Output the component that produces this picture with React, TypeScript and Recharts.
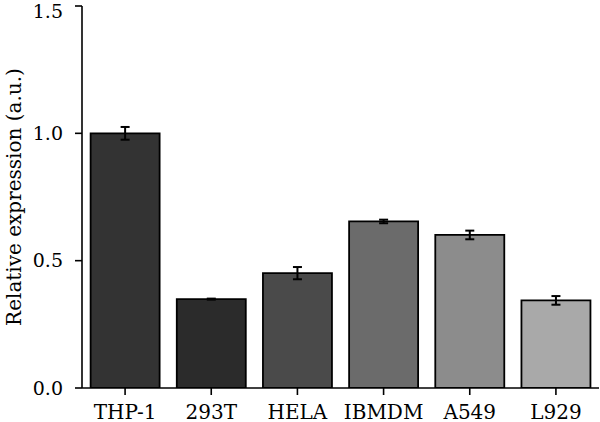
import React from 'react';
import { BarChart, Bar, XAxis, YAxis, ErrorBar, Cell, Label } from 'recharts';

const categories = ['THP-1', '293T', 'HELA', 'IBMDM', 'A549', 'L929'];
const values = [1.0, 0.349, 0.451, 0.654, 0.601, 0.344];
const errors = [0.025, 0.002, 0.024, 0.007, 0.017, 0.017];
const colors = ['#333333', '#2b2b2b', '#4a4a4a', '#6b6b6b', '#8c8c8c', '#a9a9a9'];
const yTicks = [0, 0.5, 1.0, 1.5];
const yLabel = 'Relative expression (a.u.)';

const data = categories.map((c, i) => ({ name: c, value: values[i], err: errors[i] }));

const FONT = '"DejaVu Serif", serif';

const YLabelContent = (props: any) => {
  const vb = props.viewBox || {};
  const cx = 14;
  const cy = vb.y + vb.height / 2;
  return (
    <text
      x={cx}
      y={cy}
      transform={`rotate(-90, ${cx}, ${cy})`}
      textAnchor="middle"
      dominantBaseline="central"
      fontFamily={FONT}
      fontSize={20}
      fill="#000"
    >
      {yLabel}
    </text>
  );
};

export default function App() {
  return (
    <div style={{ position: 'absolute', left: 0, top: 0, width: 600, height: 422, background: '#fff' }}>
      <BarChart
        width={600}
        height={422}
        data={data}
        margin={{ top: 6, right: 1, bottom: 0, left: 0 }}
        barCategoryGap="10%"
      >
        <XAxis
          dataKey="name"
          height={34}
          tickSize={7}
          tickMargin={10}
          axisLine={{ stroke: '#000', strokeWidth: 1.6 }}
          tickLine={{ stroke: '#000', strokeWidth: 1.6 }}
          tick={{ fill: '#000', fontSize: 20, fontFamily: FONT }}
          interval={0}
        />
        <YAxis
          width={82}
          domain={[0, 1.5]}
          ticks={yTicks}
          tickFormatter={(v: number) => v.toFixed(1)}
          tickSize={7}
          tickMargin={12}
          axisLine={{ stroke: '#000', strokeWidth: 1.6 }}
          tickLine={{ stroke: '#000', strokeWidth: 1.6 }}
          tick={{ fill: '#000', fontSize: 19, fontFamily: FONT }}
          allowDataOverflow
        >
          <Label content={<YLabelContent />} />
        </YAxis>
        <Bar dataKey="value" stroke="#000" strokeWidth={1.8} isAnimationActive={false}>
          {data.map((d, i) => (
            <Cell key={d.name} fill={colors[i]} />
          ))}
          <ErrorBar dataKey="err" width={4.5} stroke="#000" strokeWidth={2} />
        </Bar>
      </BarChart>
    </div>
  );
}
